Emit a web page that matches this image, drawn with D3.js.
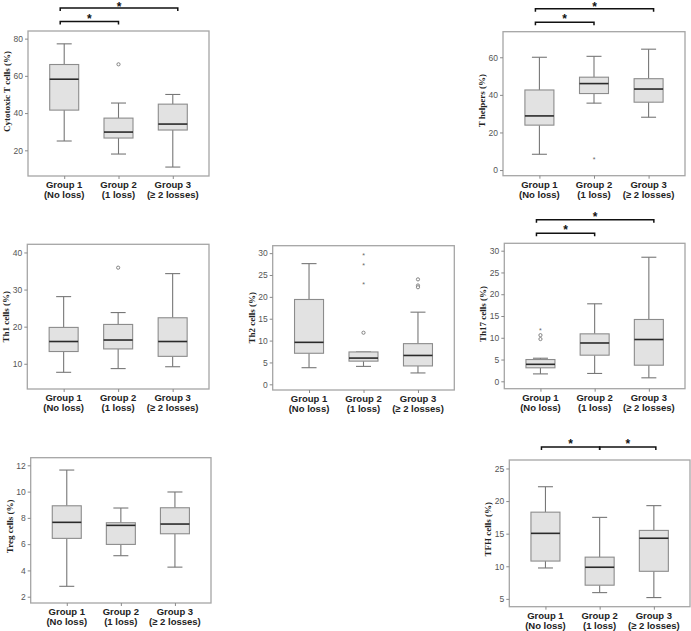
<!DOCTYPE html>
<html>
<head>
<meta charset="utf-8">
<script src="https://cdn.jsdelivr.net/npm/d3@7"></script>
<style>
  body { margin: 0; background: #fff; }
  svg { display: block; }
</style>
</head>
<body>
<script>
// groups shared by every panel
const groupNames = ["Group 1", "Group 2", "Group 3"];
const groupNotes = ["(No loss)", "(1 loss)", "(\u2265 2 losses)"];

// box stats per group: [low whisker, Q1, median, Q3, high whisker]
const cytotoxicT = [[25, 41.6, 58.2, 66.1, 77.2], [18, 26.6, 29.8, 37.3, 45.4], [11, 30.9, 34.1, 44.8, 50]];
const tHelpers = [[8.4, 23.9, 28.8, 42.6, 60], [35.6, 40.7, 46, 49.4, 60.5], [28.1, 36.1, 43.1, 48.6, 64.3]];
const th1 = [[7.7, 13.3, 16, 19.8, 28.1], [8.7, 14, 16.4, 20.6, 23.8], [9.2, 12, 16, 22.4, 34.3]];
const th2 = [[3.8, 7.1, 9.6, 19.4, 27.6], [4.1, 5.3, 6, 7.4, 7.4], [2.6, 4.2, 6.6, 9.3, 16.5]];
const th17 = [[1.7, 3.1, 3.9, 5.0, 5.3], [1.8, 6.0, 8.8, 10.9, 17.8], [0.8, 3.7, 9.6, 14.2, 28.5]];
const treg = [[2.79, 6.44, 7.66, 8.92, 11.64], [5.12, 5.98, 7.43, 7.63, 8.75], [4.25, 6.79, 7.53, 8.77, 9.97]];
const tfh = [[9.74, 10.8, 15.05, 18.3, 22.2], [5.96, 7.1, 9.85, 11.4, 17.5], [5.2, 9.23, 14.3, 15.5, 19.3]];

// outliers: [group index, value, marker]
const cytotoxicTOut = [[1, 66.2, "o"]];
const tHelpersOut = [[1, 5.7, "*"]];
const th1Out = [[1, 35.9, "o"]];
const th2Out = [[1, 29.5, "*"], [1, 27.4, "*"], [1, 23, "*"], [1, 11.8, "o"], [2, 24.0, "o"], [2, 22.6, "o"], [2, 22.2, "o"]];
const th17Out = [[0, 11.8, "*"], [0, 10.6, "o"], [0, 9.7, "o"]];

// significant pairs (group index a, group index b, bracket level)
const cytotoxicTSig = [[0, 1, 0], [0, 2, 1]];
const tHelpersSig = [[0, 1, 0], [0, 2, 1]];
const th17Sig = [[0, 1, 0], [0, 2, 1]];
const tfhSig = [[0, 1, 0], [1, 2, 0]];

// y tick values
const cytotoxicTTicks = [20, 40, 60, 80];
const tHelpersTicks = [0, 20, 40, 60];
const th1Ticks = [10, 20, 30, 40];
const th2Ticks = [0, 5, 10, 15, 20, 25, 30];
const th17Ticks = [0, 5, 10, 15, 20, 25, 30];
const tregTicks = [2, 4, 6, 8, 10, 12];
const tfhTicks = [5, 10, 15, 20, 25];

const panels = [
  { label: "Cytotoxic T cells (%)", stats: cytotoxicT, out: cytotoxicTOut, sig: cytotoxicTSig, ticks: cytotoxicTTicks,
    frame: [28, 31, 209, 176], domain: [6.2, 84.1], labelDy: -12, sigTop: 9.5 },
  { label: "T helpers (%)", stats: tHelpers, out: tHelpersOut, sig: tHelpersSig, ticks: tHelpersTicks,
    frame: [503, 31.7, 685, 175.7], domain: [-3, 73.6], labelDy: -3, sigTop: 9.5 },
  { label: "Th1 cells (%)", stats: th1, out: th1Out, sig: [], ticks: th1Ticks,
    frame: [27.3, 244.3, 209, 389], domain: [3.2, 42.2], labelDy: 0 },
  { label: "Th2 cells (%)", stats: th2, out: th2Out, sig: [], ticks: th2Ticks,
    frame: [272.7, 245.7, 454.3, 390], domain: [-1.3, 31.7], labelDy: 0 },
  { label: "Th17 cells (%)", stats: th17, out: th17Out, sig: th17Sig, ticks: th17Ticks,
    frame: [504.3, 243.3, 685, 388.7], domain: [-1.7, 31.7], labelDy: -2, sigTop: 10 },
  { label: "Treg cells (%)", stats: treg, out: [], sig: [], ticks: tregTicks,
    frame: [30.7, 457.7, 211, 603], domain: [1.52, 12.58], labelDy: -4 },
  { label: "TFH cells (%)", stats: tfh, out: [], sig: tfhSig, ticks: tfhTicks,
    frame: [509.3, 460, 690, 606.7], domain: [3.8, 26.3], labelDy: -4, sigTop: 13 }
];

const svg = d3.select("body").append("svg")
  .attr("width", 691)
  .attr("height", 631);

const boxW = 29, capW = 15;

panels.forEach(p => {
  const [x0, y0, x1, y1] = p.frame;
  const x = d3.scalePoint().domain(groupNames).range([x0, x1]).padding(0.667);
  const y = d3.scaleLinear().domain(p.domain).range([y1, y0]);
  const g = svg.append("g");

  // Plot frame
  g.append("rect")
    .attr("x", x0).attr("y", y0)
    .attr("width", x1 - x0).attr("height", y1 - y0)
    .attr("fill", "none")
    .attr("stroke", "#a5a5a5")
    .attr("stroke-width", 1.3);

  // Y axis
  const ya = g.append("g")
    .attr("transform", `translate(${x0},0)`)
    .call(d3.axisLeft(y).tickValues(p.ticks).tickSize(3).tickPadding(2));
  ya.select(".domain").remove();
  ya.selectAll("line").attr("stroke", "#8a8a8a");
  ya.selectAll("text")
    .attr("fill", "#555")
    .style("font-family", "'Liberation Sans', Arial, sans-serif")
    .style("font-size", "8.5px");

  // X axis ticks and two-line group labels
  const xa = g.append("g")
    .attr("transform", `translate(0,${y1})`)
    .call(d3.axisBottom(x).tickSize(3).tickFormat(""));
  xa.select(".domain").remove();
  xa.selectAll("line").attr("stroke", "#8a8a8a");

  const lab = g.selectAll(".glab").data(groupNames).enter().append("text")
    .attr("class", "glab")
    .attr("text-anchor", "middle")
    .attr("fill", "#222")
    .style("font-family", "'Liberation Sans', Arial, sans-serif")
    .style("font-weight", "bold")
    .style("font-size", "9.5px");
  lab.append("tspan").attr("x", d => x(d)).attr("y", y1 + 12).text(d => d);
  lab.append("tspan").attr("x", d => x(d)).attr("y", y1 + 22).text((d, i) => groupNotes[i]);

  // Y label
  g.append("text")
    .attr("transform", `translate(${x0 - 18},${(y0 + y1) / 2 + p.labelDy}) rotate(-90)`)
    .attr("text-anchor", "middle")
    .attr("fill", "#222")
    .style("font-family", "'Liberation Serif', 'Times New Roman', serif")
    .style("font-weight", "bold")
    .style("font-size", "9px")
    .text(p.label);

  // Boxes
  p.stats.forEach((s, i) => {
    const cx = x(groupNames[i]);
    const bg = g.append("g");
    bg.append("line").attr("x1", cx).attr("x2", cx).attr("y1", y(s[0])).attr("y2", y(s[1]));
    bg.append("line").attr("x1", cx).attr("x2", cx).attr("y1", y(s[3])).attr("y2", y(s[4]));
    bg.append("line").attr("x1", cx - capW / 2).attr("x2", cx + capW / 2).attr("y1", y(s[0])).attr("y2", y(s[0]));
    bg.append("line").attr("x1", cx - capW / 2).attr("x2", cx + capW / 2).attr("y1", y(s[4])).attr("y2", y(s[4]));
    bg.selectAll("line").attr("stroke", "#777").attr("stroke-width", 1.1);
    bg.append("rect")
      .attr("x", cx - boxW / 2).attr("y", y(s[3]))
      .attr("width", boxW).attr("height", y(s[1]) - y(s[3]))
      .attr("fill", "#e2e2e2")
      .attr("stroke", "#8c8c8c")
      .attr("stroke-width", 1.1);
    bg.append("line")
      .attr("x1", cx - boxW / 2).attr("x2", cx + boxW / 2)
      .attr("y1", y(s[2])).attr("y2", y(s[2]))
      .attr("stroke", "#2a2a2a")
      .attr("stroke-width", 1.6);
  });

  // Outliers
  p.out.forEach(o => {
    const cx = x(groupNames[o[0]]);
    if (o[2] === "o") {
      g.append("circle")
        .attr("cx", cx).attr("cy", y(o[1])).attr("r", 1.6)
        .attr("fill", "#fff").attr("stroke", "#777").attr("stroke-width", 0.9);
    } else {
      g.append("text")
        .attr("x", cx).attr("y", y(o[1]) + 3)
        .attr("text-anchor", "middle")
        .attr("fill", "#666")
        .style("font-family", "'Liberation Sans', Arial, sans-serif")
        .style("font-size", "7px")
        .text("*");
    }
  });

  // Significance brackets
  p.sig.forEach(([a, b, level]) => {
    const xa0 = x(groupNames[a]) - (a === 0 ? 4 : 0);
    const xb0 = x(groupNames[b]) + (b === 2 ? (a === 1 ? 2 : 5) : 0);
    const by = y0 - p.sigTop - level * 13.5;
    g.append("path")
      .attr("d", `M${xa0},${by + 3}V${by}H${xb0}V${by + 3}`)
      .attr("fill", "none")
      .attr("stroke", "#111")
      .attr("stroke-width", 1.5);
    // keep the star's box inside the page at the very top
    g.append("text")
      .attr("x", (xa0 + xb0) / 2).attr("y", Math.max(by + 1, 11))
      .attr("text-anchor", "middle")
      .attr("fill", "#111")
      .style("font-family", "'Liberation Sans', Arial, sans-serif")
      .style("font-weight", "bold")
      .style("font-size", "12px")
      .text("*");
  });
});
</script>
</body>
</html>
